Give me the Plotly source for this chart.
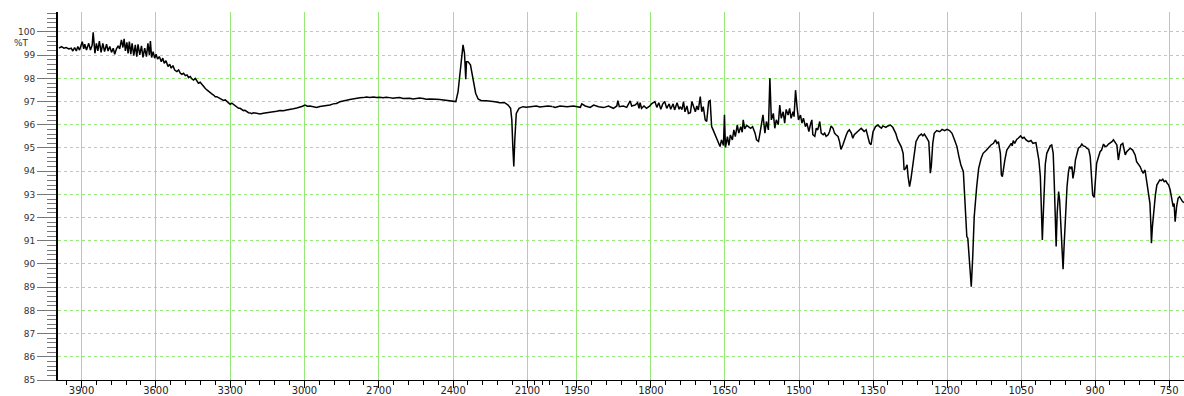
import plotly.graph_objects as go

# ---------------- data ----------------
wavenumber = [
    3991, 3981, 3971, 3962, 3951, 3942, 3935, 3928, 3921, 3915, 3908, 3897, 3891, 3887, 3880, 3871,
    3864, 3857, 3853, 3846, 3840, 3834, 3828, 3821, 3814, 3807, 3799, 3793, 3786, 3779, 3772, 3766,
    3759, 3752, 3746, 3739, 3733, 3728, 3723, 3717, 3712, 3707, 3701, 3696, 3689, 3683, 3677, 3672,
    3665, 3658, 3652, 3645, 3638, 3632, 3626, 3622, 3617, 3611, 3605, 3599, 3593, 3586, 3578, 3572,
    3566, 3559, 3551, 3544, 3538, 3531, 3524, 3515, 3508, 3501, 3495, 3488, 3481, 3474, 3468, 3461,
    3454, 3448, 3441, 3434, 3428, 3421, 3414, 3407, 3401, 3394, 3387, 3380, 3374, 3367, 3360, 3354,
    3347, 3340, 3334, 3327, 3320, 3313, 3307, 3300, 3293, 3287, 3280, 3273, 3266, 3260, 3253, 3246,
    3240, 3233, 3226, 3219, 3213, 3206, 3193, 3179, 3166, 3152, 3139, 3126, 3112, 3099, 3085, 3072,
    3058, 3045, 3031, 3018, 3008, 2998, 2988, 2978, 2965, 2951, 2938, 2924, 2910, 2897, 2884, 2871,
    2857, 2844, 2830, 2817, 2803, 2790, 2776, 2763, 2750, 2736, 2722, 2709, 2696, 2683, 2670, 2656,
    2643, 2629, 2616, 2602, 2589, 2575, 2562, 2548, 2535, 2521, 2508, 2495, 2481, 2468, 2454, 2441,
    2427, 2414, 2400, 2389, 2380, 2370, 2360, 2354, 2349, 2346, 2340, 2330, 2319, 2309, 2299, 2286,
    2266, 2252, 2239, 2225, 2212, 2192, 2178, 2168, 2163, 2159, 2155, 2151, 2145, 2134, 2118, 2105,
    2091, 2078, 2064, 2050, 2037, 2025, 2017, 2000,
    1994, 1984, 1970, 1957, 1943, 1940, 1933, 1923, 1916, 1906, 1896, 1886, 1876, 1869, 1867, 1864,
    1856, 1849, 1842, 1839, 1832, 1827, 1824, 1822, 1819, 1814, 1809, 1802, 1799, 1792, 1788, 1784,
    1780, 1776, 1772, 1768, 1763, 1760, 1755, 1752, 1747, 1743, 1741, 1737, 1734, 1731, 1727, 1724,
    1720, 1717, 1714, 1710, 1707, 1704, 1700, 1697, 1694, 1690, 1687, 1683, 1680, 1677, 1674, 1670,
    1667, 1663, 1660, 1657, 1653, 1651, 1649, 1645, 1642, 1639, 1635, 1632, 1629, 1625, 1622, 1618,
    1615, 1613, 1610, 1606, 1603, 1598, 1594, 1589, 1586, 1582, 1579, 1575, 1573, 1569, 1566, 1562,
    1559, 1556, 1552, 1549, 1546, 1542, 1539, 1536, 1532, 1529, 1526, 1522, 1519, 1516, 1512, 1510,
    1507, 1504, 1501, 1497, 1494, 1491, 1487, 1484, 1480, 1477, 1474, 1472, 1468, 1465, 1462, 1458,
    1455, 1451, 1448, 1445, 1441, 1438, 1435, 1431, 1428, 1425, 1421, 1418, 1415, 1411, 1408, 1404,
    1401, 1398, 1394, 1391, 1388, 1384, 1381, 1378, 1374, 1371, 1368, 1364, 1361, 1357, 1354, 1350,
    1345, 1340, 1337, 1333, 1330, 1324, 1320, 1315, 1310, 1304, 1300, 1293, 1289, 1287, 1284, 1281,
    1279, 1276, 1273, 1269, 1266, 1263, 1257, 1252, 1249, 1246, 1241, 1237, 1235, 1234, 1232, 1229,
    1226, 1221, 1215, 1210, 1205, 1200, 1195, 1190, 1185, 1180, 1176, 1172, 1167, 1164, 1160, 1158,
    1155, 1151, 1148, 1145, 1140, 1136, 1131, 1127, 1121, 1117, 1111, 1106, 1102, 1099, 1096, 1092,
    1090, 1088, 1085, 1083, 1079, 1075, 1070, 1068, 1066, 1063, 1059, 1056, 1051, 1047, 1044, 1040,
    1035, 1030, 1026, 1020, 1017, 1014, 1011, 1009, 1007, 1005, 1003, 1001, 998, 994, 991, 988,
    985, 983, 981, 979, 977, 974, 972, 969, 967, 965, 963, 960, 957, 954, 952, 949,
    947, 945, 942, 940, 937, 934, 930, 927, 924, 920, 917, 913, 910, 907, 905, 902,
    900, 897, 893, 890, 887, 883, 880, 876, 873, 870, 866, 863, 860, 856, 853, 850,
    848, 844, 841, 839, 836, 833, 829, 824, 819, 816, 813, 809, 806, 803, 799, 796,
    793, 789, 787, 786, 784, 781, 778, 775, 772, 769, 766, 763, 760, 757, 754, 751,
    748, 744, 742, 740, 738, 735, 732, 729, 726, 723, 720,
]

transmittance = [
    99.30, 99.37, 99.30, 99.33, 99.27, 99.30, 99.18, 99.33, 99.18, 99.37, 99.22, 99.58, 99.27, 99.47, 99.22, 99.51,
    99.22, 99.44, 99.99, 99.08, 99.51, 99.18, 99.61, 99.12, 99.51, 99.15, 99.47, 99.18, 99.37, 99.12, 99.30, 99.04,
    99.27, 99.40, 99.27, 99.66, 99.33, 99.70, 99.18, 99.55, 99.08, 99.58, 99.04, 99.51, 98.98, 99.44, 98.94, 99.47,
    99.01, 99.40, 98.90, 99.30, 98.94, 99.51, 99.01, 99.61, 98.90, 99.15, 98.87, 99.04, 98.83, 98.94, 98.72, 98.87,
    98.65, 98.76, 98.51, 98.61, 98.44, 98.55, 98.36, 98.29, 98.36, 98.22, 98.17, 98.22, 98.12, 98.15, 98.03, 98.08,
    97.97, 97.93, 98.00, 97.86, 97.79, 97.83, 97.72, 97.64, 97.57, 97.50, 97.43, 97.39, 97.33, 97.28, 97.21, 97.21,
    97.17, 97.11, 97.10, 97.05, 97.07, 97.00, 96.97, 96.88, 96.93, 96.88, 96.85, 96.78, 96.71, 96.71, 96.64, 96.61,
    96.62, 96.55, 96.52, 96.51, 96.48, 96.52, 96.49, 96.46, 96.50, 96.52, 96.51, 96.56, 96.58, 96.61, 96.60, 96.64,
    96.68, 96.69, 96.72, 96.75, 96.80, 96.85, 96.80, 96.81, 96.77, 96.75, 96.79, 96.81, 96.83, 96.85, 96.90, 96.92,
    96.99, 97.04, 97.06, 97.09, 97.12, 97.14, 97.16, 97.17, 97.20, 97.18, 97.20, 97.18, 97.19, 97.16, 97.19, 97.17,
    97.14, 97.16, 97.17, 97.13, 97.15, 97.14, 97.11, 97.13, 97.15, 97.13, 97.10, 97.11, 97.12, 97.10, 97.09, 97.07,
    97.07, 97.04, 97.03, 97.00, 97.43, 98.51, 99.44, 99.08, 97.96, 98.72, 98.72, 98.58, 97.93, 97.36, 97.11, 97.04,
    97.03, 97.00, 97.00, 96.98, 96.95, 96.95, 96.85, 96.71, 96.21, 95.06, 94.20, 95.35, 96.49, 96.71, 96.78, 96.76,
    96.78, 96.80, 96.81, 96.77, 96.78, 96.82, 96.81, 96.79,
    96.75, 96.81, 96.78, 96.81, 96.75, 96.90, 96.81, 96.75, 96.85, 96.78, 96.74, 96.81, 96.71, 96.81, 97.04, 96.78,
    96.81, 96.75, 97.03, 96.81, 96.85, 96.95, 96.71, 96.95, 96.71, 96.81, 96.71, 96.81, 96.90, 97.00, 96.75, 96.95,
    96.67, 96.90, 97.00, 96.71, 96.90, 96.67, 96.90, 96.64, 96.95, 96.67, 96.78, 96.66, 97.00, 96.56, 96.81, 96.49,
    96.52, 97.00, 96.78, 96.56, 96.81, 96.64, 97.21, 96.56, 96.78, 96.21, 96.14, 97.00, 97.04, 95.92, 95.78, 95.56,
    95.42, 95.21, 95.06, 95.35, 95.11, 96.43, 95.02, 95.49, 95.11, 95.56, 95.35, 95.78, 95.49, 96.00, 95.64, 95.92,
    95.68, 96.21, 95.82, 95.97, 95.92, 95.85, 95.92, 95.64, 95.35, 95.28, 95.64, 96.14, 96.43, 95.64, 96.14, 95.78,
    98.00, 96.21, 96.49, 95.85, 96.21, 96.00, 96.85, 96.28, 96.56, 96.07, 96.66, 96.42, 96.71, 96.28, 96.56, 96.35,
    97.49, 96.78, 96.21, 96.42, 96.07, 96.28, 95.92, 96.07, 95.71, 96.00, 96.21, 95.57, 95.50, 95.85, 95.78, 96.14,
    95.64, 95.57, 95.64, 95.50, 95.57, 95.71, 95.95, 95.85, 95.64, 95.57, 95.50, 95.28, 94.94, 95.14, 95.35, 95.57,
    95.71, 95.78, 95.64, 95.42, 95.57, 95.64, 95.71, 95.78, 95.85, 95.78, 95.71, 95.78, 95.50, 95.21, 95.14, 95.70,
    95.92, 95.99, 95.92, 95.85, 95.95, 95.89, 95.95, 95.99, 95.89, 95.63, 95.35, 95.06, 94.77, 94.05, 94.12, 94.27,
    93.77, 93.33, 93.69, 94.34, 94.91, 95.27, 95.52, 95.60, 95.52, 95.60, 95.42, 95.27, 94.48, 93.91, 94.20, 95.20,
    95.63, 95.75, 95.70, 95.80, 95.75, 95.80, 95.75, 95.63, 95.35, 95.06, 94.63, 94.27, 93.98, 92.61, 91.18, 91.11,
    90.17, 89.02, 90.32, 92.04, 93.33, 94.12, 94.55, 94.77, 94.89, 94.99, 95.13, 95.20, 95.35, 95.20, 95.27, 94.77,
    93.84, 93.76, 94.34, 94.48, 94.91, 95.03, 95.20, 95.09, 95.32, 95.20, 95.37, 95.42, 95.52, 95.42, 95.46, 95.35,
    95.27, 95.32, 95.20, 95.23, 94.91, 94.48, 93.76, 92.33, 91.03, 92.20, 93.60, 94.30, 94.77, 94.99, 95.09, 95.13,
    94.77, 93.62, 91.90, 90.75, 92.18, 93.12, 92.76, 91.47, 90.46, 89.77, 90.75, 92.18, 93.33, 93.98, 94.20, 94.12,
    94.20, 93.69, 94.05, 94.48, 94.77, 94.99, 95.06, 95.17, 95.09, 95.06, 94.99, 94.94, 94.63, 93.84, 92.97, 92.87,
    93.55, 94.34, 94.63, 94.84, 94.91, 95.17, 95.06, 95.09, 95.17, 95.20, 95.27, 95.35, 95.23, 95.13, 94.48, 94.91,
    95.13, 95.20, 94.77, 94.70, 94.84, 94.91, 94.99, 94.91, 94.70, 94.41, 94.34, 94.20, 94.05, 93.91, 94.05, 93.62,
    93.33, 92.61, 91.61, 90.89, 91.61, 92.47, 92.97, 93.40, 93.55, 93.62, 93.59, 93.65, 93.55, 93.59, 93.48, 93.40,
    93.19, 92.76, 92.47, 92.61, 91.82, 92.47, 92.83, 92.90, 92.76, 92.69, 92.65,
]

x_major_hi = [3900, 3600, 3300, 3000, 2700, 2400, 2100]
x_major_lo = [1950, 1800, 1650, 1500, 1350, 1200, 1050, 900, 750]
x_minor_hi = [3960, 3840, 3780, 3720, 3660, 3540, 3480, 3420, 3360, 3240, 3180, 3120, 3060,
              2940, 2880, 2820, 2760, 2640, 2580, 2520, 2460, 2340, 2280, 2220, 2160,
              2070, 2040, 2010]
x_minor_lo = [w for w in range(1980, 720, -30) if w not in x_major_lo]
y_major = list(range(85, 101))
y_minor = [round(85 + 0.2 * i, 1) for i in range(80) if i % 5 != 0]

BREAK = 2000          # the spectrometer doubles the x scale below 2000 1/cm
X_HI_RANGE = [3995, BREAK]
X_LO_RANGE = [BREAK, 720]
Y_RANGE = [85, 100.86]

pairs = list(zip(wavenumber, transmittance))
hi = [p for p in pairs if p[0] >= BREAK]
lo = [p for p in pairs if p[0] <= BREAK]

# ---------------- figure ----------------
W, H = 1184, 396
ML, MR, MT, MB = 58, 0, 12, 16
PW, PH = W - ML - MR, H - MT - MB
split = (552.2 - ML) / PW

GRID = "#96e878"
TICKFONT = dict(family="DejaVu Sans", size=9, color="#333333")
XFONT = dict(family="DejaVu Sans", size=10, color="#222222")

fig = go.Figure()
line = dict(color="black", width=1.5)
fig.add_trace(go.Scatter(x=[p[0] for p in hi], y=[p[1] for p in hi], mode="lines",
                         line=line, xaxis="x", yaxis="y", showlegend=False, hoverinfo="skip"))
fig.add_trace(go.Scatter(x=[p[0] for p in lo], y=[p[1] for p in lo], mode="lines",
                         line=line, xaxis="x2", yaxis="y", showlegend=False, hoverinfo="skip"))

xcommon = dict(
    showgrid=True, gridcolor=GRID, gridwidth=1,
    showline=True, linecolor="black", linewidth=1,
    ticks="outside", ticklen=7, tickcolor="black", tickwidth=1,
    tickfont=XFONT, ticklabelstandoff=-6,
    zeroline=False, anchor="y", tickmode="array", automargin=False,
)

fig.update_layout(
    width=W, height=H,
    margin=dict(l=ML, r=MR, t=MT, b=MB, autoexpand=False),
    paper_bgcolor="white", plot_bgcolor="white",
    xaxis=dict(domain=[0, split], range=X_HI_RANGE, tickvals=x_major_hi,
               ticktext=[str(v) for v in x_major_hi],
               minor=dict(tickmode="array", tickvals=x_minor_hi, ticks="outside",
                          ticklen=4, tickcolor="black", showgrid=False),
               **xcommon),
    xaxis2=dict(domain=[split, 1], range=X_LO_RANGE, tickvals=x_major_lo,
                ticktext=[str(v) for v in x_major_lo],
                minor=dict(tickmode="array", tickvals=x_minor_lo, ticks="outside",
                           ticklen=4, tickcolor="black", showgrid=False),
                **xcommon),
    yaxis=dict(range=Y_RANGE, tickmode="array", tickvals=y_major,
               ticktext=[str(v) for v in y_major],
               showgrid=True, gridcolor=GRID, gridwidth=1, griddash="dot",
               showline=True, linecolor="black", linewidth=2,
               ticks="outside", ticklen=19, tickcolor="#777777", tickwidth=1,
               minor=dict(tickmode="array", tickvals=y_minor, ticks="outside",
                          ticklen=9, tickcolor="#777777", showgrid=False),
               tickfont=TICKFONT, zeroline=False, anchor="x", automargin=False),
    annotations=[
        dict(text="%T", xref="paper", yref="paper", x=(21 - ML) / PW, y=1 - (43 - MT) / PH,
             showarrow=False, font=TICKFONT, xanchor="center", yanchor="middle"),
        dict(text="sample1", xref="paper", yref="paper", x=(57 - ML) / PW, y=-(394 - MT - PH) / PH,
             showarrow=False, font=XFONT, xanchor="left", yanchor="top"),
        dict(text="1/cm", xref="paper", yref="paper", x=(1163 - ML) / PW, y=-(394 - MT - PH) / PH,
             showarrow=False, font=XFONT, xanchor="left", yanchor="top"),
    ],
)

fig.write_html("out.html")
